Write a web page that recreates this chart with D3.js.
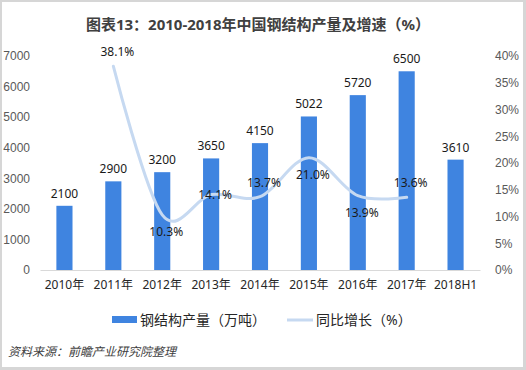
<!DOCTYPE html>
<html>
<head>
<meta charset="utf-8">
<script src="https://cdn.jsdelivr.net/npm/d3@7"></script>
<style>
  body { margin: 0; }
  svg text { font-family: "Noto Sans", "Noto Sans CJK SC", sans-serif; }
</style>
</head>
<body>
<svg id="chart"></svg>
<script>
var categories = ["2010年", "2011年", "2012年", "2013年", "2014年", "2015年", "2016年", "2017年", "2018H1"];
var output = [2100, 2900, 3200, 3650, 4150, 5022, 5720, 6500, 3610];
var growth = [null, 38.1, 10.3, 14.1, 13.7, 21.0, 13.9, 13.6, null];
var leftTicks = [0, 1000, 2000, 3000, 4000, 5000, 6000, 7000];
var rightTicks = [0, 5, 10, 15, 20, 25, 30, 35, 40];
// where each growth label sits relative to its point
var growthLabelPos = [null, "above", "below", "on", "above", "below", "below", "above", null];

var width = 526, height = 370;
var margin = {top: 56, right: 46, bottom: 100, left: 40};

var svg = d3.select("#chart")
  .attr("width", width)
  .attr("height", height);

svg.append("rect").attr("width", width).attr("height", height).attr("fill", "#d6d6d6");
svg.append("rect").attr("x", 2).attr("y", 2).attr("width", width - 5).attr("height", height - 5).attr("fill", "#fff");

var x = d3.scaleBand()
  .domain(categories)
  .range([margin.left, width - margin.right])
  .paddingInner(0.67)
  .paddingOuter(0.335);
var xc = function(c) { return x(c) + x.bandwidth() / 2; };

var yL = d3.scaleLinear().domain([0, 7000]).range([270, 56]);
var yR = d3.scaleLinear().domain([0, 40]).range([270, 56]);

svg.append("text")
  .text("图表13：2010-2018年中国钢结构产量及增速（%）")
  .attr("x", 258).attr("y", 30)
  .attr("text-anchor", "middle")
  .attr("font-size", "15px")
  .attr("font-weight", "bold")
  .attr("fill", "#404040");

// axes
var leftAxis = svg.append("g")
  .attr("transform", "translate(30,0)")
  .call(d3.axisLeft(yL).tickValues(leftTicks).tickSize(0).tickPadding(0).tickFormat(d3.format("d")));
leftAxis.select(".domain").remove();
leftAxis.selectAll("text").attr("font-size", "12px").attr("fill", "#595959")
  .style("font-family", "'Liberation Sans', sans-serif");

var rightAxis = svg.append("g")
  .attr("transform", "translate(495,0)")
  .call(d3.axisRight(yR).tickValues(rightTicks).tickSize(0).tickPadding(0).tickFormat(function(d) { return d + "%"; }));
rightAxis.select(".domain").remove();
rightAxis.selectAll("text").attr("font-size", "12px").attr("fill", "#595959")
  .style("font-family", "'Liberation Sans', sans-serif");

var bottomAxis = svg.append("g")
  .attr("transform", "translate(0,270)")
  .call(d3.axisBottom(x).tickSize(0).tickPadding(10));
bottomAxis.select(".domain").attr("stroke", "#d9d9d9");
bottomAxis.selectAll("text").attr("font-size", "12px").attr("fill", "#262626");

// bars
svg.append("g").selectAll("rect")
  .data(output)
  .join("rect")
  .attr("x", function(d, i) { return x(categories[i]); })
  .attr("y", function(d) { return yL(d); })
  .attr("width", x.bandwidth())
  .attr("height", function(d) { return yL(0) - yL(d); })
  .attr("fill", "#3f84e0");

svg.append("g").selectAll("text")
  .data(output)
  .join("text")
  .text(function(d) { return d; })
  .attr("x", function(d, i) { return xc(categories[i]); })
  .attr("y", function(d) { return yL(d) - 8; })
  .attr("text-anchor", "middle")
  .attr("font-size", "12px")
  .attr("fill", "#1a1a1a");

// growth line
var pts = growth.map(function(d, i) { return {c: categories[i], v: d}; })
  .filter(function(p) { return p.v !== null; });

var line = d3.line()
  .x(function(p) { return xc(p.c); })
  .y(function(p) { return yR(p.v); })
  .curve(d3.curveCardinal.tension(0));

svg.append("path")
  .attr("d", line(pts))
  .attr("fill", "none")
  .attr("stroke", "#c6d9f1")
  .attr("stroke-width", 3)
  .attr("stroke-linecap", "round");

svg.append("g").selectAll("text")
  .data(pts)
  .join("text")
  .text(function(p) { return p.v.toFixed(1) + "%"; })
  .attr("x", function(p) { return xc(p.c) + 4; })
  .attr("y", function(p) {
    var pos = growthLabelPos[categories.indexOf(p.c)];
    var off = pos === "above" ? -10 : (pos === "below" ? 21 : 4);
    return yR(p.v) + off;
  })
  .attr("text-anchor", "middle")
  .attr("font-size", "12px")
  .attr("fill", "#1a1a1a");

// legend
var legend = svg.append("g").attr("transform", "translate(0,320)");
legend.append("rect").attr("x", 112).attr("y", -4).attr("width", 25).attr("height", 7).attr("fill", "#3f84e0");
legend.append("text").text("钢结构产量（万吨）").attr("x", 140).attr("y", 5)
  .attr("font-size", "14px").attr("fill", "#262626");
legend.append("line").attr("x1", 287).attr("x2", 313).attr("y1", 0).attr("y2", 0)
  .attr("stroke", "#c6d9f1").attr("stroke-width", 3);
legend.append("text").text("同比增长（%）").attr("x", 316).attr("y", 5)
  .attr("font-size", "14px").attr("fill", "#262626");

svg.append("text")
  .text("资料来源：前瞻产业研究院整理")
  .attr("x", 8).attr("y", 356)
  .attr("font-size", "12px")
  .attr("font-style", "italic")
  .attr("fill", "#404040");
</script>
</body>
</html>
